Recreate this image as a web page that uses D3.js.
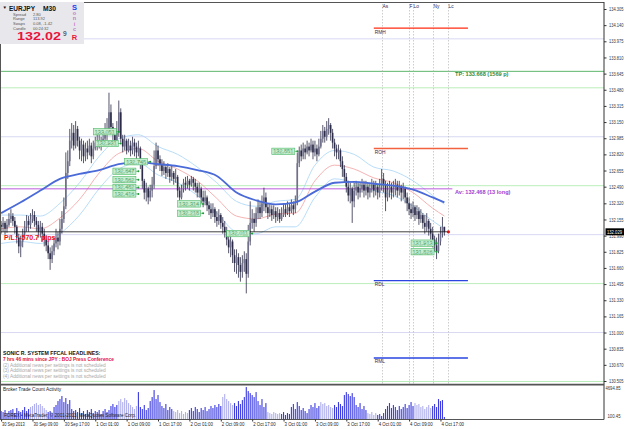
<!DOCTYPE html>
<html><head><meta charset="utf-8">
<script src="https://cdn.jsdelivr.net/npm/d3@7"></script>
<style>body{margin:0;background:#fff}svg{display:block}text{font-family:"Liberation Sans",Arial,sans-serif}</style>
</head><body><svg id="c" width="625" height="429"></svg>
<script>
// ---------------- data ----------------
const symbol = "EURJPY", timeframe = "M30";
const firstOpen = 132.10;
const closes = [
132.08,132.12,132.06,132.10,132.16,132.19,132.14,132.08,131.97,131.88,
131.93,132.01,132.08,132.14,132.10,132.16,132.20,132.14,132.10,132.03,
132.08,132.01,131.95,131.89,131.81,131.75,131.83,131.91,131.97,131.93,
132.06,132.16,132.29,132.63,132.75,132.96,133.04,132.91,133.08,132.96,
132.86,132.92,132.80,132.88,132.84,132.91,132.80,132.88,132.94,132.90,
132.96,132.92,132.98,133.02,133.06,133.25,133.10,133.02,132.96,133.04,
133.25,132.98,132.90,132.96,132.86,132.91,132.86,132.94,132.90,132.84,
132.88,132.75,132.55,132.43,132.47,132.38,132.45,132.51,132.70,132.86,
132.77,132.71,132.65,132.69,132.63,132.67,132.59,132.63,132.57,132.59,
132.45,132.38,132.47,132.53,132.51,132.55,132.51,132.57,132.53,132.49,
132.43,132.47,132.38,132.34,132.38,132.30,132.26,132.22,132.26,132.18,
132.14,132.20,132.12,132.08,132.03,131.95,131.87,131.93,131.79,131.71,
131.77,131.69,131.62,131.71,131.75,131.60,131.93,132.12,132.16,132.12,
132.22,132.28,132.22,132.32,132.38,132.28,132.22,132.26,132.20,132.24,
132.18,132.22,132.16,132.20,132.26,132.22,132.28,132.24,132.30,132.26,
132.34,132.73,132.86,132.80,132.88,132.84,132.90,132.86,132.92,132.84,
132.88,132.82,132.90,132.98,133.06,133.00,133.08,133.12,133.04,132.94,
132.88,132.84,132.86,132.75,132.67,132.59,132.49,132.40,132.47,132.34,
132.45,132.49,132.43,132.47,132.51,132.45,132.49,132.43,132.47,132.51,
132.45,132.49,132.43,132.49,132.57,132.51,132.38,132.45,132.49,132.43,
132.47,132.51,132.45,132.49,132.43,132.47,132.38,132.32,132.26,132.22,
132.28,132.20,132.24,132.16,132.20,132.12,132.08,132.14,132.06,132.01,
131.95,131.89,131.83,131.93,132.01,132.08,132.029];
const highs = [
132.14,132.18,132.14,132.16,132.22,132.26,132.22,132.18,132.10,132.01,
131.99,132.06,132.14,132.20,132.19,132.22,132.26,132.24,132.18,132.14,
132.14,132.12,132.06,131.99,131.93,131.87,131.89,131.97,132.06,132.03,
132.16,132.24,132.38,132.84,132.86,133.08,133.14,133.12,133.16,133.11,
133.00,132.98,132.96,132.94,132.96,132.98,132.94,132.96,133.00,133.02,
133.04,133.00,133.06,133.14,133.19,133.45,133.33,133.14,133.08,133.16,
133.37,133.29,133.02,133.02,132.98,132.98,132.96,133.00,132.98,132.94,
132.96,132.90,132.77,132.57,132.53,132.49,132.51,132.59,132.86,132.94,
132.91,132.81,132.77,132.75,132.71,132.73,132.69,132.70,132.65,132.67,
132.61,132.49,132.51,132.57,132.59,132.60,132.57,132.60,132.59,132.57,
132.53,132.53,132.49,132.45,132.45,132.40,132.34,132.32,132.32,132.28,
132.24,132.26,132.22,132.18,132.14,132.08,132.01,131.99,131.95,131.85,
131.85,131.81,131.77,131.79,131.83,131.81,132.10,132.34,132.26,132.22,
132.28,132.36,132.34,132.40,132.48,132.43,132.32,132.32,132.30,132.30,
132.28,132.28,132.26,132.28,132.32,132.32,132.34,132.32,132.36,132.34,
132.40,132.84,132.90,132.92,132.94,132.92,132.96,132.94,132.98,132.96,
132.96,132.92,132.98,133.06,133.12,133.10,133.16,133.19,133.14,133.08,
132.98,132.92,132.92,132.88,132.80,132.71,132.63,132.55,132.53,132.49,
132.53,132.55,132.53,132.53,132.57,132.55,132.55,132.53,132.53,132.57,
132.55,132.55,132.51,132.57,132.67,132.63,132.55,132.53,132.55,132.53,
132.55,132.57,132.55,132.55,132.51,132.53,132.49,132.43,132.38,132.32,
132.34,132.30,132.30,132.28,132.26,132.22,132.20,132.22,132.16,132.12,
132.08,131.99,131.97,132.01,132.08,132.18,132.08];
const lows = [
132.01,132.03,132.00,132.02,132.08,132.12,132.09,132.01,131.91,131.81,
131.77,131.87,131.97,132.03,132.03,132.06,132.12,132.08,132.03,131.97,
131.97,131.93,131.88,131.83,131.75,131.64,131.71,131.79,131.87,131.85,
131.89,132.01,132.12,132.26,132.57,132.70,132.88,132.86,132.88,132.90,
132.77,132.75,132.73,132.75,132.77,132.81,132.73,132.77,132.86,132.86,
132.88,132.86,132.90,132.94,132.96,133.04,133.04,132.96,132.92,132.94,
133.00,132.94,132.84,132.86,132.82,132.84,132.80,132.82,132.80,132.77,
132.80,132.67,132.47,132.36,132.34,132.31,132.34,132.38,132.47,132.67,
132.70,132.65,132.60,132.61,132.57,132.59,132.53,132.55,132.51,132.53,
132.38,132.35,132.36,132.43,132.45,132.47,132.45,132.49,132.45,132.43,
132.38,132.38,132.32,132.28,132.30,132.24,132.20,132.16,132.18,132.12,
132.08,132.10,132.06,132.01,131.97,131.89,131.81,131.77,131.71,131.62,
131.60,131.56,131.52,131.56,131.62,131.40,131.56,131.89,132.06,132.03,
132.08,132.16,132.16,132.18,132.24,132.22,132.16,132.18,132.14,132.16,
132.12,132.14,132.12,132.14,132.18,132.18,132.20,132.18,132.22,132.20,
132.22,132.30,132.69,132.75,132.77,132.77,132.82,132.80,132.84,132.77,
132.80,132.75,132.80,132.88,132.94,132.94,132.96,133.02,132.96,132.88,
132.80,132.77,132.77,132.69,132.59,132.53,132.43,132.34,132.32,132.12,
132.28,132.40,132.36,132.38,132.43,132.38,132.40,132.36,132.38,132.43,
132.38,132.40,132.36,132.38,132.45,132.43,132.24,132.34,132.38,132.36,
132.38,132.40,132.38,132.40,132.34,132.36,132.32,132.24,132.20,132.16,
132.18,132.14,132.16,132.10,132.12,132.06,132.01,132.03,131.99,131.95,
131.87,131.83,131.75,131.81,131.89,131.97,131.99];
const tradeCount = [
1210,1070,1350,930,1210,1350,1490,930,1630,1210,
1070,1350,1770,1210,1490,1770,1910,2190,2320,2050,
2190,1910,1630,1350,1070,1210,930,1770,2050,2600,
2880,3300,2460,3020,2190,2740,1490,1210,1350,1070,
1630,930,1210,800,1350,1070,1490,930,1210,1070,
1350,800,1210,1490,1070,1350,1910,2190,1770,2050,
2600,2880,2460,3020,2740,2320,2050,1770,1490,1910,
3850,1770,1490,2050,1350,1630,2600,3160,4130,2880,
3440,2460,1910,1630,2190,1350,1770,1490,1210,1070,
1350,930,1210,800,1070,930,1350,1630,1210,1770,
1490,1070,1630,1350,1770,1210,1490,1910,1630,2050,
1770,2190,1910,3160,3580,2880,2600,2320,2050,2320,
1910,2600,2190,2740,3160,4550,3990,3710,3440,3160,
3850,2600,2050,2880,1770,2320,1070,930,800,1070,
930,800,930,800,1070,660,930,800,1770,2190,
1490,2460,1910,1350,1630,1210,930,1490,2050,1770,
2320,1630,1910,2460,2190,2320,1910,2050,1770,1630,
2050,1770,2460,2190,1910,3440,3850,3580,3300,3710,
3160,2050,1770,2320,1490,1910,1350,930,800,1070,
660,930,660,800,520,930,1490,1910,2320,1630,
2050,1770,1350,1910,1490,1770,2190,1630,2050,2460,
1910,2320,2050,2190,1770,1910,1490,1770,2050,1630,
1910,2190,1770,2880,2600,2740,380];
const tradeLightRanges = [[15,23],[60,69],[88,95],[113,118],[136,142],[163,169],[187,191],[211,219]];
const tradeScaleLabels = ["4694.85","100.45"];

const priceTicks = ["134.305","134.140","133.975","133.810","133.645","133.480","133.315","133.150","132.985","132.820","132.655","132.490","132.320","132.155","131.990","131.825","131.660","131.495","131.330","131.165","131.000","130.835","130.670","130.505"];
const timeLabels = ["30 Sep 2013","30 Sep 09:00","30 Sep 17:00","1 Oct 01:00","1 Oct 09:00","1 Oct 17:00","2 Oct 01:00","2 Oct 09:00","2 Oct 17:00","3 Oct 01:00","3 Oct 09:00","3 Oct 17:00","4 Oct 01:00","4 Oct 09:00","4 Oct 17:00"];

const maIndex  = [0,10,20,30,40,50,60,70,80,90,100,110,120,130,140,150,160,170,180,190,200,210,220,226];
const maSlow   = [132.22,132.33,132.45,132.57,132.62,132.66,132.72,132.74,132.72,132.70,132.66,132.60,132.43,132.35,132.31,132.33,132.44,132.53,132.54,132.52,132.50,132.46,132.38,132.33];
const maFast   = [132.06,132.08,132.06,132.17,132.36,132.63,132.83,132.88,132.75,132.67,132.55,132.37,132.19,132.16,132.21,132.22,132.55,132.71,132.67,132.58,132.53,132.43,132.27,132.19];
const bandUpper= [132.20,132.20,132.19,132.32,132.53,132.80,132.98,133.02,132.90,132.82,132.69,132.53,132.34,132.29,132.34,132.36,132.71,132.86,132.82,132.69,132.65,132.55,132.40,132.31];
const bandLower= [131.91,131.93,131.91,132.01,132.20,132.47,132.67,132.73,132.61,132.53,132.40,132.22,132.03,132.01,132.08,132.08,132.38,132.57,132.53,132.45,132.40,132.29,132.14,132.06];

const entryBars   = [60,61,76,70,70,70,70,103,103,128,151,222,222];
const entryPrices = [133.051,132.931,132.745,132.647,132.562,132.482,132.416,132.314,132.218,132.011,132.851,131.913,131.826];

const roundLevels = [134,133,132,131];
const halfLevels = [133.5,132.5,131.5,130.5];
const tpPrice = 133.668, tpPips = 1569;
const avPrice = 132.468, openTrades = 13;
const bidPrice = 132.029;
const plPips = -570.7;
const pivotNames = ["RMH","ROH","RDL","RML"];
const pivotPrices = [134.11,132.88,131.53,130.74];
const pivotColors = ["#ff2a10","#f2623e","#2a45e0","#2a45e0"];
const sessionNames = ["As","F","Lo","Ny","Lc"];
const sessionHours = [2,9,10,15,19]; // 4 Oct
const infoLabels = ["Spread","Range","Swaps","Candle"];
const infoValues = ["2.80","113.92","0.08, -1.42","00:24:32"];
const headlines = ["SONIC R. SYSTEM  FFCAL HEADLINES:","7 hrs 46 mins since JPY : BOJ Press Conference","(2)  Additional news per settings is not scheduled","(3)  Additional news per settings is not scheduled","(4)  Additional news per settings is not scheduled"];

// ---------------- drawing ----------------
const svg = d3.select('#c');
const R = 604, mainBot = 383.5, indBot = 419.5;
const t0 = new Date(2013,8,30,1,0);
const times = closes.map((_,i)=>new Date(t0.getTime()+i*1800000));
const x = d3.scaleTime().domain([times[0],times[times.length-1]]).range([1.1,444.4]);
const y = d3.scaleLinear().domain([130.505,134.305]).range([381,9]);
const yv = d3.scaleLinear().domain([100.45,4694.85]).range([419,386]);
const tAt = i => new Date(t0.getTime()+i*1800000);

function T(g,px,py,s,o={}){
  const t = g.append('text').attr('x',px).attr('y',py).text(s)
   .attr('font-size',o.fs||5.5).attr('fill',o.c||'#222')
   .attr('font-weight',o.b?'bold':null).attr('text-anchor',o.a||'start');
  if(o.w) t.attr('textLength',o.w).attr('lengthAdjust','spacingAndGlyphs');
  return t;
}

// level lines
const lv = svg.append('g');
roundLevels.forEach(p=>lv.append('line').attr('x1',0).attr('x2',R).attr('y1',y(p)).attr('y2',y(p)).attr('stroke','#d8d8f4').attr('stroke-width',1));
halfLevels.forEach(p=>lv.append('line').attr('x1',0).attr('x2',R).attr('y1',y(p)).attr('y2',y(p)).attr('stroke','#a8e8a8').attr('stroke-width',0.8));
lv.append('line').attr('x1',0).attr('x2',R).attr('y1',y(tpPrice)).attr('y2',y(tpPrice)).attr('stroke','#4cae5c').attr('stroke-width',0.9);

// session verticals
const lastT = times[times.length-1];
sessionNames.forEach((n,k)=>{
  const sx = Math.round(x(new Date(2013,9,4,sessionHours[k],0)))+0.5;
  lv.append('line').attr('x1',sx).attr('x2',sx).attr('y1',4).attr('y2',mainBot).attr('stroke','#b8b8b8').attr('stroke-width',0.7).attr('stroke-dasharray','1.5,1.5');
  T(lv,sx,7.5,n,{fs:4.8,c:'#2a2a60'});
});

// pivots
pivotNames.forEach((n,k)=>{
  const py = y(pivotPrices[k]);
  lv.append('line').attr('x1',x(new Date(2013,9,4,0,0))).attr('x2',x(new Date(2013,9,5,0,0))).attr('y1',py).attr('y2',py).attr('stroke',pivotColors[k]).attr('stroke-width',1.3);
  T(lv,x(new Date(2013,9,4,0,0))+1,py+5.5,n,{fs:4.8,c:'#2a2a60'});
});

// bands and MAs
const pts = arr => arr.map((v,k)=>[x(tAt(maIndex[k])),y(v)]);
const line = d3.line().curve(d3.curveMonotoneX);
[bandUpper,bandLower].forEach(a=>svg.append('path').attr('d',line(pts(a))).attr('fill','none').attr('stroke','#a6d4f6').attr('stroke-width',0.8));
svg.append('path').attr('d',line(pts(maFast))).attr('fill','none').attr('stroke','#f2a0a0').attr('stroke-width',0.8);

// average price line
svg.append('line').attr('x1',0).attr('x2',x(lastT)+8).attr('y1',y(avPrice)).attr('y2',y(avPrice)).attr('stroke','#b04cd8').attr('stroke-width',0.9);

// candles
const cg = svg.append('g');
closes.forEach((c,i)=>{
  const o = i===0?firstOpen:closes[i-1];
  const hi = Math.max(highs[i],o,c), lo = Math.min(lows[i],o,c);
  const cx = x(times[i]);
  const bull = c>=o;
  cg.append('line').attr('x1',cx).attr('x2',cx).attr('y1',y(hi)).attr('y2',y(lo)).attr('stroke','#2c2c48').attr('stroke-width',0.8);
  const top = y(Math.max(o,c)), h = Math.max(0.8,Math.abs(y(o)-y(c)));
  cg.append('rect').attr('x',cx-0.8).attr('y',top).attr('width',1.6).attr('height',h)
    .attr('fill',bull?'#70708c':'#2c2c48');
});

// slow MA on top
svg.append('path').attr('d',line(pts(maSlow))).attr('fill','none').attr('stroke','#4a6ad8').attr('stroke-width',1.8);

// bid line
svg.append('line').attr('x1',0).attr('x2',x(lastT)+4).attr('y1',y(bidPrice)).attr('y2',y(bidPrice)).attr('stroke','#111').attr('stroke-width',0.8);
svg.append('circle').attr('cx',x(lastT)+4).attr('cy',y(bidPrice)).attr('r',1.6).attr('fill','#e01010');

// entry labels
const eg = svg.append('g');
entryPrices.forEach((p,k)=>{
  const dx = x(times[entryBars[k]]), dy = y(p);
  eg.append('rect').attr('x',dx-25.5).attr('y',dy-3.2).attr('width',23).attr('height',6.4).attr('fill','#c6efcf').attr('stroke','#4cb868').attr('stroke-width',0.6);
  T(eg,dx-24,dy+1.9,p.toFixed(3),{fs:5.2,c:'#fff',w:20}).attr('stroke','#3a9a52').attr('stroke-width',0.25);
  eg.append('circle').attr('cx',dx).attr('cy',dy).attr('r',1).attr('fill','#1f9a3a');
  eg.append('line').attr('x1',dx-2.5).attr('x2',dx).attr('y1',dy).attr('y2',dy).attr('stroke','#1f9a3a').attr('stroke-width',0.6);
});

// texts on chart
T(svg,455,y(tpPrice)+4.5,`TP: ${tpPrice.toFixed(3)}  (${tpPips} p)`,{fs:5.6,b:true,c:'#2f8a3e'});
T(svg,455,y(avPrice)+5,`Av: ${avPrice.toFixed(3)}  (${openTrades} long)`,{fs:5.6,b:true,c:'#a040d0'});
T(svg,4,y(bidPrice)+8,`P/L: ${plPips.toFixed(1)} pips`,{fs:7,b:true,c:'#f01010'});

// headlines
const hy=[355,361,366.5,372,377.5];
headlines.forEach((h,k)=>T(svg,3,hy[k],h,{fs:k===0?5.2:4.8,b:k<2,c:k===0?'#111':(k===1?'#e0103a':'#a8a8a8')}));

// info box
svg.append('line').attr('x1',0).attr('x2',R).attr('y1',2.5).attr('y2',2.5).attr('stroke','#555').attr('stroke-width',1);
svg.append('rect').attr('x',0).attr('y',2).attr('width',84).attr('height',42).attr('fill','#e8e8ec');
T(svg,2.5,8.5,'▼',{fs:4.5,c:'#111'});
T(svg,9,10.5,symbol,{fs:7.5,b:true,c:'#111',w:26});
T(svg,43,10.5,timeframe,{fs:7.5,b:true,c:'#111',w:13});
infoLabels.forEach((l,k)=>{T(svg,13,15.5+k*4.8,l,{fs:4,c:'#555'});T(svg,33,15.5+k*4.8,infoValues[k],{fs:4,c:'#555'});});
T(svg,17,40,bidPrice.toFixed(3).slice(0,-1),{fs:11.5,b:true,c:'#e8143c',w:44});
T(svg,63,35.5,bidPrice.toFixed(3).slice(-1),{fs:6.5,c:'#111'});
T(svg,74.5,9.5,'S',{fs:7.5,b:true,c:'#1a3cf0',a:'middle'});
['o','n','i','c'].forEach((ch,k)=>T(svg,74.5,15+k*5.3,ch,{fs:5.5,b:true,c:'#c27bc8',a:'middle'}));
T(svg,74.5,40,'R',{fs:7.5,b:true,c:'#e8143c',a:'middle'});

// price axis
const ya = svg.append('g').attr('transform',`translate(${R},0)`)
  .call(d3.axisRight(y).tickValues(priceTicks.map(Number)).tickFormat((d,i)=>priceTicks[i]).tickSize(2.5).tickPadding(2.5));
ya.select('.domain').remove();
ya.selectAll('line').attr('stroke','#333');
ya.selectAll('text').attr('font-size',4.8).attr('fill','#333').attr('textLength',14.5).attr('lengthAdjust','spacingAndGlyphs').attr('font-family','"Liberation Sans",Arial,sans-serif');
svg.append('rect').attr('x',R+1.5).attr('y',y(bidPrice)-3.5).attr('width',18.5).attr('height',7).attr('fill','#000');
T(svg,R+3,y(bidPrice)+1.8,bidPrice.toFixed(3),{fs:4.8,c:'#fff',w:15});

// panel frames
svg.append('line').attr('x1',0.5).attr('x2',0.5).attr('y1',44).attr('y2',indBot).attr('stroke','#555').attr('stroke-width',1);
svg.append('line').attr('x1',R).attr('x2',R).attr('y1',2).attr('y2',indBot).attr('stroke','#333').attr('stroke-width',1);
svg.append('line').attr('x1',0).attr('x2',R).attr('y1',384.6).attr('y2',384.6).attr('stroke','#555').attr('stroke-width',1.6);
svg.append('line').attr('x1',0).attr('x2',R).attr('y1',indBot).attr('y2',indBot).attr('stroke','#555').attr('stroke-width',1);

// indicator
const ig = svg.append('g');
const isLight = i => tradeLightRanges.some(r=>i>=r[0]&&i<=r[1]);
tradeCount.forEach((v,i)=>{
  const bx = x(times[i]);
  ig.append('rect').attr('x',bx-0.55).attr('y',yv(v)).attr('width',1.1).attr('height',Math.max(0,419-yv(v)))
    .attr('fill',isLight(i)?'#b0b0ee':'#3b3be0');
});
T(svg,3,391,'Broker Trade Count Activity',{fs:4.8,c:'#222'});
T(svg,4,416.5,'FOREX \u2022 MetaTrader, \u00a9 2001-2013, MetaQuotes Software Corp.',{fs:4.6,c:'#222'});
T(svg,R+1.5,389.5,tradeScaleLabels[0],{fs:4.6,c:'#333',w:15});
T(svg,R+3.5,417.5,tradeScaleLabels[1],{fs:4.6,c:'#333',w:13});

// time axis
const tickDates = timeLabels.map((_,k)=>times[k*16]);
const xa = svg.append('g').attr('transform',`translate(0,${indBot})`)
  .call(d3.axisBottom(x).tickValues(tickDates).tickFormat((d,i)=>timeLabels[i]).tickSize(2).tickPadding(0.5));
xa.select('.domain').remove();
xa.selectAll('line').attr('stroke','#333');
xa.selectAll('text').attr('text-anchor','start').attr('dx',0.5).attr('font-size',5.2).attr('fill','#222')
  .attr('textLength',(d,i)=>timeLabels[i].length*2.05).attr('lengthAdjust','spacingAndGlyphs')
  .attr('font-family','"Liberation Sans",Arial,sans-serif');
</script></body></html>
